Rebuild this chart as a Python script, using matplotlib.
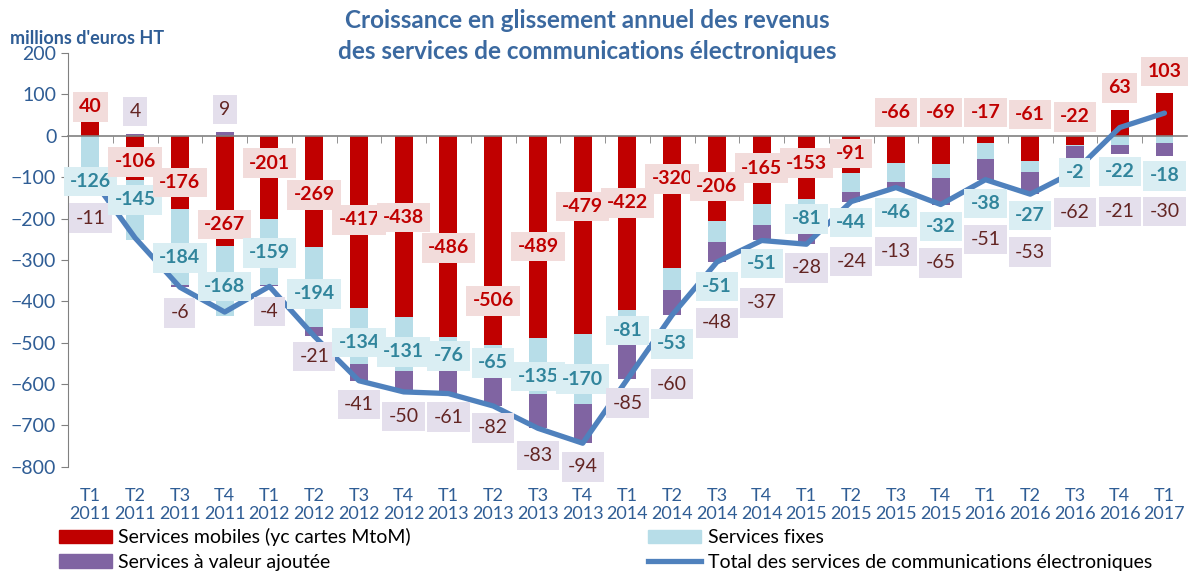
import matplotlib
matplotlib.use("Agg")
import matplotlib.pyplot as plt
import numpy as np
from matplotlib.patches import Patch
from matplotlib.lines import Line2D

plt.rcParams['font.family'] = ['Lato', 'DejaVu Sans']

quarters = ["T1", "T2", "T3", "T4"] * 6 + ["T1"]
years = ["2011"] * 4 + ["2012"] * 4 + ["2013"] * 4 + ["2014"] * 4 + ["2015"] * 4 + ["2016"] * 4 + ["2017"]

mobiles = [40, -106, -176, -267, -201, -269, -417, -438, -486, -506, -489, -479,
           -422, -320, -206, -165, -153, -91, -66, -69, -17, -61, -22, 63, 103]
fixes = [-126, -145, -184, -168, -159, -194, -134, -131, -76, -65, -135, -170,
         -81, -53, -51, -51, -81, -44, -46, -32, -38, -27, -2, -22, -18]
vas = [-11, 4, -6, 9, -4, -21, -41, -50, -61, -82, -83, -94,
       -85, -60, -48, -37, -28, -24, -13, -65, -51, -53, -62, -21, -30]

# where the data labels sit (y, in data units)
mob_lab_y = [70, -63, -113, -215, -66, -143, -203, -198, -271, -399, -268, -171,
             -162, -104, -123, -78, -66, -43, 56, 56, 56, 51, 46, 116, 155]
fix_lab_y = [-111, -155, -295, -364, -283, -382, -500, -522, -532, -549, -582, -588,
             -471, -503, -364, -309, -201, -210, -186, -219, -163, -193, -89, -86, -97]
vas_lab_y = [-199, 59, -428, 63, -425, -534, -650, -679, -680, -706, -773, -800,
             -646, -600, -452, -404, -319, -304, -280, -307, -251, -281, -186, -183, -183]

x = np.arange(len(mobiles))
total = np.array(mobiles) + np.array(fixes) + np.array(vas)

blue = "#2f5d95"
fig = plt.figure(figsize=(11.94, 5.77), dpi=100)
ax = fig.add_axes([0.057, 0.191, 0.937, 0.717])

series = [(mobiles, "#c00000"), (fixes, "#b7dde8"), (vas, "#8064a2")]
pos = np.zeros(len(x))
neg = np.zeros(len(x))
for vals, col in series:
    v = np.array(vals, dtype=float)
    bottom = np.where(v >= 0, pos, neg)
    ax.bar(x, v, 0.4, bottom=bottom, color=col, zorder=2)
    pos = pos + np.where(v >= 0, v, 0)
    neg = neg + np.where(v < 0, v, 0)

ax.plot(x, total, color="#4f81bd", lw=3.8, zorder=3, solid_capstyle='round')

for i in x:
    ax.text(i, mob_lab_y[i], str(mobiles[i]), ha='center', va='center', fontsize=14,
            fontweight='bold', color="#c00000", zorder=5,
            bbox=dict(boxstyle="square,pad=0.32", fc="#f2dcdb", ec="none"))
    ax.text(i, fix_lab_y[i], str(fixes[i]), ha='center', va='center', fontsize=14,
            fontweight='bold', color="#31859c", zorder=5,
            bbox=dict(boxstyle="square,pad=0.32", fc="#daeef3", ec="none"))
    ax.text(i, vas_lab_y[i], str(vas[i]), ha='center', va='center', fontsize=14,
            color="#632523", zorder=5,
            bbox=dict(boxstyle="square,pad=0.32", fc="#e4dfec", ec="none"))

ax.set_xlim(-0.5, len(x) - 0.5)
ax.set_ylim(-800, 200)
ax.set_yticks(range(-800, 201, 100))
ax.tick_params(axis='y', colors="#808080", labelcolor=blue, labelsize=14, length=5)
for s in ['top', 'right']:
    ax.spines[s].set_visible(False)
ax.spines['left'].set_color("#808080")
ax.spines['bottom'].set_position(('data', 0))
ax.spines['bottom'].set_color("#808080")
ax.spines['bottom'].set_linewidth(1.2)
ax.set_xticks(x - 0.5, minor=True)
ax.set_xticks([])
ax.tick_params(axis='x', which='minor', direction='out', length=5, colors="#808080")

sec = ax.secondary_xaxis('bottom')
sec.set_xticks(x, [q + "\n" + y for q, y in zip(quarters, years)])
sec.tick_params(length=0, labelcolor=blue, labelsize=13, pad=15)
sec.spines['bottom'].set_visible(False)

title_col = "#3b69a0"
fig.text(0.492, 0.965, "Croissance en glissement annuel des revenus",
         ha='center', va='center', fontsize=17.5, fontweight='bold', color=title_col)
fig.text(0.492, 0.91, "des services de communications électroniques",
         ha='center', va='center', fontsize=17.5, fontweight='bold', color=title_col)
fig.text(0.008, 0.934, "millions d'euros HT", ha='left', va='center', fontsize=13,
         fontweight='bold', color=blue)

handles = [Patch(color="#c00000"), Patch(color="#8064a2"), Patch(color="#b7dde8"),
           Line2D([], [], color="#4f81bd", lw=3.8)]
labels = ["Services mobiles (yc cartes MtoM)", "Services à valeur ajoutée",
          "Services fixes", "Total des services de communications électroniques"]
fig.legend(handles, labels, loc='upper left', bbox_to_anchor=(0.043, 0.098), ncol=2,
           frameon=False, fontsize=14, handlelength=2.7, handleheight=0.7,
           columnspacing=12.2, labelspacing=0.4, handletextpad=0.35, borderaxespad=0)

fig.savefig("out.png", dpi=100)
